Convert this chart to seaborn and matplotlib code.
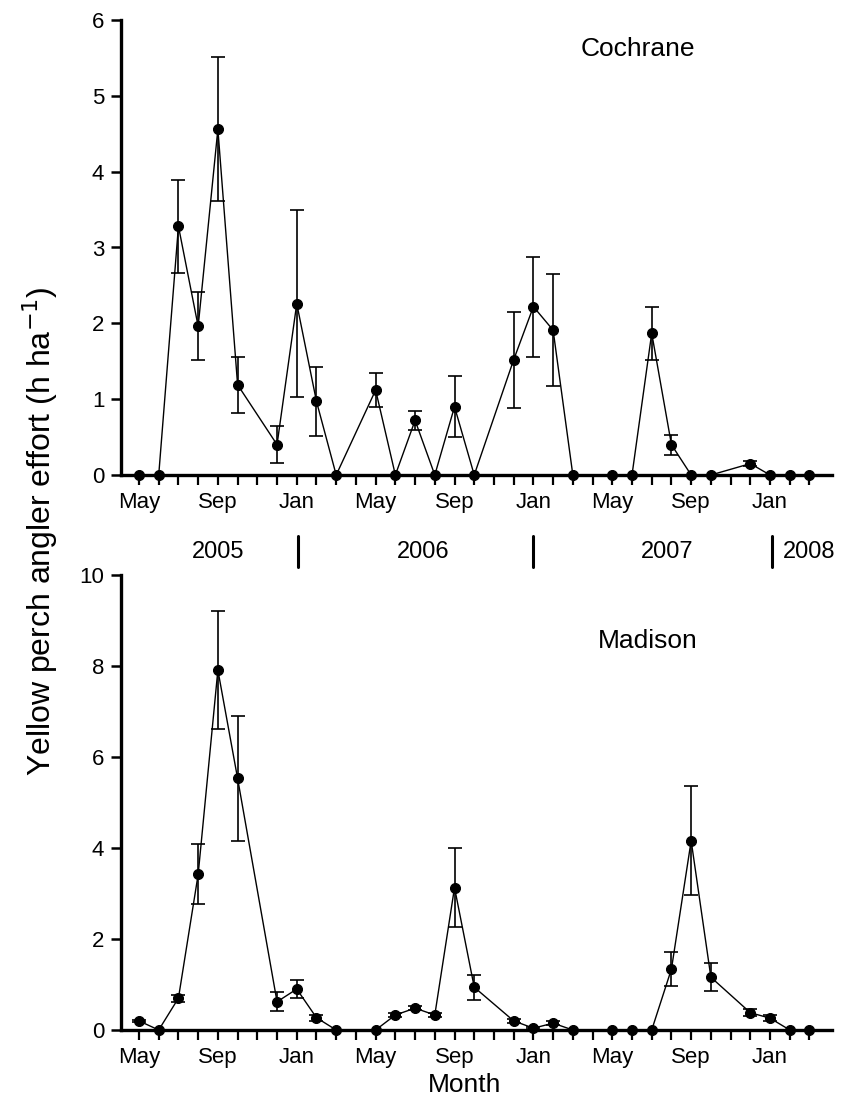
import numpy as np
import pandas as pd
import matplotlib
matplotlib.use("Agg")
import matplotlib.pyplot as plt
import matplotlib.transforms as mtransforms
import seaborn as sns

nan = np.nan

# Months May 2005 .. Mar 2008 (index 0..34)
month_names = ["May", "Jun", "Jul", "Aug", "Sep", "Oct", "Nov", "Dec", "Jan", "Feb", "Mar", "Apr"]
n_months = 35
tick_label_positions = [0, 4, 8, 12, 16, 20, 24, 28, 32]
tick_label_texts = ["May", "Sep", "Jan", "May", "Sep", "Jan", "May", "Sep", "Jan"]

years = ["2005", "2006", "2007", "2008"]
year_positions = [4.0, 14.4, 26.8, 32.65]
year_breaks = [8.05, 20.0, 32.1]

cochrane_mean = [0, 0, 3.28, 1.96, 4.56, 1.19, nan, 0.40, 2.26, 0.97, 0, nan,
                 1.12, 0, 0.72, 0, 0.90, 0, nan, 1.52, 2.22, 1.91, 0, nan,
                 0, 0, 1.87, 0.40, 0, 0, nan, 0.15, 0, 0, 0]
cochrane_se = [0, 0, 0.61, 0.45, 0.95, 0.37, nan, 0.24, 1.23, 0.45, 0, nan,
               0.22, 0, 0.13, 0, 0.40, 0, nan, 0.63, 0.66, 0.74, 0, nan,
               0, 0, 0.35, 0.13, 0, 0, nan, 0.03, 0, 0, 0]

madison_mean = [0.20, 0, 0.70, 3.42, 7.91, 5.53, nan, 0.62, 0.90, 0.27, 0, nan,
                0, 0.33, 0.48, 0.33, 3.13, 0.94, nan, 0.20, 0.04, 0.15, 0, nan,
                0, 0, 0, 1.34, 4.16, 1.16, nan, 0.38, 0.26, 0, 0]
madison_se = [0.03, 0, 0.08, 0.66, 1.30, 1.38, nan, 0.21, 0.20, 0.07, 0, nan,
              0, 0.05, 0.05, 0.04, 0.87, 0.27, nan, 0.05, 0.02, 0.04, 0, nan,
              0, 0, 0, 0.38, 1.20, 0.31, nan, 0.08, 0.06, 0, 0]

sns.set_style("ticks")
plt.rcParams['font.family'] = ['Liberation Sans', 'DejaVu Sans']
plt.rcParams['text.color'] = 'black'
plt.rcParams['xtick.color'] = 'black'
plt.rcParams['ytick.color'] = 'black'
plt.rcParams['axes.labelcolor'] = 'black'

W, H = 844, 1106
fig = plt.figure(figsize=(W / 100, H / 100), dpi=100)

left_px, right_px = 121, 832
def axes_rect(top_px, bottom_px):
    return [left_px / W, 1 - bottom_px / H, (right_px - left_px) / W, (bottom_px - top_px) / H]

ax1 = fig.add_axes(axes_rect(20, 475))
ax2 = fig.add_axes(axes_rect(575, 1030))

x0_idx = (left_px - 139) / 19.72
x1_idx = (right_px - 139) / 19.72

def draw_panel(ax, mean, se, ymax, yticks, name, name_xy):
    df = pd.DataFrame({"month": np.arange(n_months), "effort": mean, "se": se}).dropna()
    err = df[df["se"] > 0]
    ax.errorbar(err["month"], err["effort"], yerr=err["se"], fmt="none",
                ecolor="black", elinewidth=1.2, capsize=5, capthick=1.2,
                zorder=2, clip_on=False)
    sns.lineplot(data=df, x="month", y="effort", ax=ax, color="black",
                 linewidth=1.0, marker="o", markersize=7.2,
                 markeredgecolor="black", markerfacecolor="black",
                 estimator=None, errorbar=None, sort=True, clip_on=False, zorder=3)
    ax.set_xlim(x0_idx, x1_idx)
    ax.set_ylim(0, ymax)
    ax.set_yticks(yticks)
    ax.set_yticklabels([str(t) for t in yticks], fontsize=16, color="black")
    ax.set_xticks(np.arange(n_months))
    labels = [""] * n_months
    for p, t in zip(tick_label_positions, tick_label_texts):
        labels[p] = t
    ax.set_xticklabels(labels, fontsize=16, color="black")
    ax.tick_params(axis="x", direction="out", length=7, width=1.6, pad=5, color="black")
    ax.tick_params(axis="y", direction="out", length=7, width=1.8, pad=5, color="black")
    for s in ["top", "right"]:
        ax.spines[s].set_visible(False)
    for s in ["left", "bottom"]:
        ax.spines[s].set_linewidth(2.4)
        ax.spines[s].set_color("black")
    ax.set_xlabel("")
    ax.set_ylabel("")
    ax.text(name_xy[0], name_xy[1], name, transform=ax.transAxes,
            ha="center", va="center", fontsize=19, color="black")

draw_panel(ax1, cochrane_mean, cochrane_se, 6, [0, 1, 2, 3, 4, 5, 6], "Cochrane", (0.727, 0.936))
draw_panel(ax2, madison_mean, madison_se, 10, [0, 2, 4, 6, 8, 10], "Madison", (0.741, 0.855))

# Year row below the top panel
trans = mtransforms.blended_transform_factory(ax1.transData, ax1.transAxes)
year_y = (475 - 552) / 455
for yr, xp in zip(years, year_positions):
    ha = "left" if yr == "2008" else "center"
    ax1.text(xp, year_y, yr, transform=trans, ha=ha, va="center", fontsize=17,
             color="black", clip_on=False)
for xb in year_breaks:
    ax1.plot([xb, xb], [(475 - 536) / 455, (475 - 567) / 455], transform=trans,
             color="black", linewidth=2.2, clip_on=False)

fig.text(465 / W, 1 - 1085 / H, "Month", ha="center", va="center", fontsize=19, color="black")
fig.text(40 / W, 1 - 531 / H, "Yellow perch angler effort (h ha$^{-1}$)",
         rotation=90, ha="center", va="center", fontsize=23, color="black")

fig.savefig("out.png", dpi=100)
